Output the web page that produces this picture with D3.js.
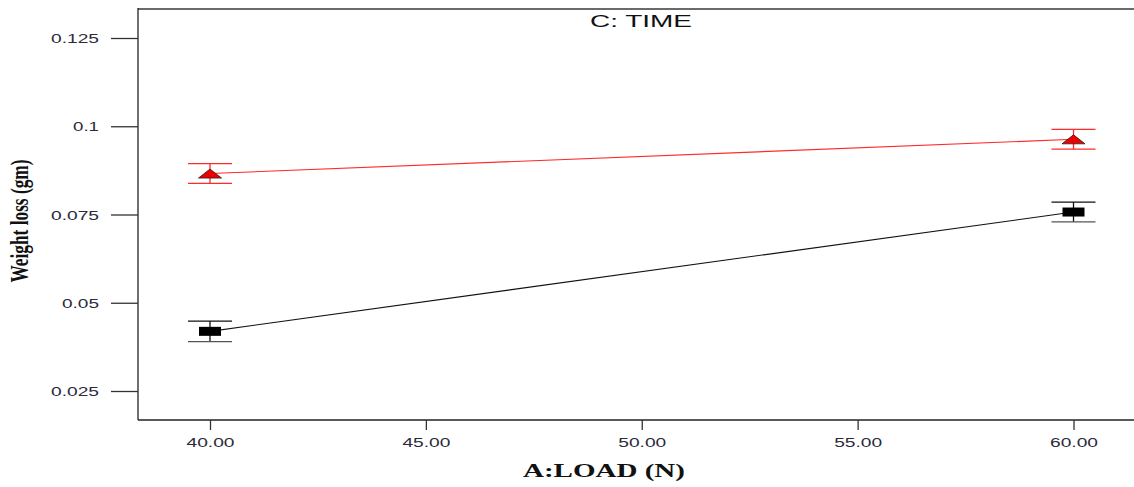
<!DOCTYPE html>
<html>
<head>
<meta charset="utf-8">
<script src="https://cdn.jsdelivr.net/npm/d3@7"></script>
<style>
  html, body { margin: 0; padding: 0; background: #fff; }
  svg { display: block; }
</style>
</head>
<body>
<svg id="chart" width="1134" height="487"></svg>
<script>
// ---- data ----
const loads = [40, 60];
const timeHigh = [0.0866, 0.0963];     // red triangles
const timeHighErr = [0.0028, 0.0028];
const timeLow = [0.0419, 0.0757];      // black squares
const timeLowErr = [0.0029, 0.0028];
const xTicks = [40, 45, 50, 55, 60];
const xTickLabels = ["40.00", "45.00", "50.00", "55.00", "60.00"];
const yTicks = [0.025, 0.05, 0.075, 0.1, 0.125];
const yTickLabels = ["0.025", "0.05", "0.075", "0.1", "0.125"];
const title = "C: TIME";
const xTitle = "A:LOAD (N)";
const yTitle = "Weight loss (gm)";

const svg = d3.select("#chart");
const W = 1134, H = 487;
const L = 138, T = 9, B = 420, R = 1134;

const x = d3.scaleLinear().domain([40, 60]).range([210, 1073.5]);
const y = d3.scaleLinear().domain([0.025, 0.125]).range([391, 38]);

// frame
svg.append("line").attr("x1", L).attr("x2", R).attr("y1", T).attr("y2", T)
  .attr("stroke", "#6a6a6a").attr("stroke-width", 2);
svg.append("line").attr("x1", L).attr("x2", L).attr("y1", T - 1).attr("y2", B)
  .attr("stroke", "#222").attr("stroke-width", 1.3);
svg.append("line").attr("x1", L).attr("x2", R).attr("y1", B).attr("y2", B)
  .attr("stroke", "#222").attr("stroke-width", 1.3);

// y axis
const yAxis = d3.axisLeft(y).tickValues(yTicks).tickSize(27).tickPadding(12)
  .tickFormat((d, i) => yTickLabels[i]);
const gy = svg.append("g").attr("transform", `translate(${L},0)`).call(yAxis);
gy.select(".domain").remove();
gy.selectAll(".tick line").attr("stroke", "#333").attr("stroke-width", 1.3);
gy.selectAll(".tick text")
  .attr("font-family", "Arial, 'Liberation Sans', sans-serif")
  .attr("font-size", 12.5).attr("fill", "#2b2b3b")
  .attr("dy", "0.36em")
  .attr("textLength", (d, i) => yTickLabels[i].length === 3 ? 26 : (yTickLabels[i].length === 4 ? 37 : 48))
  .attr("lengthAdjust", "spacingAndGlyphs");

// x axis
const xAxis = d3.axisBottom(x).tickValues(xTicks).tickSize(10).tickPadding(8)
  .tickFormat((d, i) => xTickLabels[i]);
const gx = svg.append("g").attr("transform", `translate(0,${B})`).call(xAxis);
gx.select(".domain").remove();
gx.selectAll(".tick line").attr("stroke", "#333").attr("stroke-width", 1.3);
gx.selectAll(".tick text")
  .attr("font-family", "Arial, 'Liberation Sans', sans-serif")
  .attr("font-size", 12.5).attr("fill", "#2b2b3b")
  .attr("textLength", 48).attr("lengthAdjust", "spacingAndGlyphs");

// titles
svg.append("text").attr("x", 641).attr("y", 27).attr("text-anchor", "middle")
  .attr("font-family", "Arial, 'Liberation Sans', sans-serif")
  .attr("font-size", 16.5).attr("fill", "#111")
  .attr("textLength", 102).attr("lengthAdjust", "spacingAndGlyphs")
  .text(title);

svg.append("text").attr("x", 604).attr("y", 477).attr("text-anchor", "middle")
  .attr("font-family", "'Liberation Serif', 'Times New Roman', serif")
  .attr("font-weight", "bold").attr("font-size", 18).attr("fill", "#111")
  .attr("textLength", 162).attr("lengthAdjust", "spacingAndGlyphs")
  .text(xTitle);

svg.append("text")
  .attr("transform", "translate(28,221) scale(1.5,1) rotate(-90)")
  .attr("text-anchor", "middle")
  .attr("font-family", "'Liberation Serif', 'Times New Roman', serif")
  .attr("font-weight", "bold").attr("font-size", 16.5).attr("fill", "#111")
  .attr("textLength", 123).attr("lengthAdjust", "spacingAndGlyphs")
  .text(yTitle);

// series
const line = d3.line().x(d => x(d[0])).y(d => y(d[1]));
const capHalf = 22;

function drawSeries(vals, errs, color, capBottom, marker) {
  const pts = loads.map((l, i) => [l, vals[i], errs[i]]);
  svg.append("path").datum(pts).attr("d", line)
    .attr("fill", "none").attr("stroke", color).attr("stroke-width", 1.1);
  const g = svg.append("g");
  pts.forEach(p => {
    const cx = x(p[0]);
    g.append("line").attr("x1", cx).attr("x2", cx)
      .attr("y1", y(p[1] + p[2])).attr("y2", y(p[1] - p[2]))
      .attr("stroke", color).attr("stroke-width", 1.3);
    g.append("line").attr("x1", cx - capHalf).attr("x2", cx + capHalf)
      .attr("y1", y(p[1] + p[2])).attr("y2", y(p[1] + p[2]))
      .attr("stroke", color).attr("stroke-width", 1.3);
    g.append("line").attr("x1", cx - capHalf).attr("x2", cx + capHalf)
      .attr("y1", y(p[1] - p[2])).attr("y2", y(p[1] - p[2]))
      .attr("stroke", capBottom).attr("stroke-width", 1.3);
    const cy = y(p[1]);
    if (marker === "square") {
      g.append("rect").attr("x", cx - 11).attr("y", cy - 4.5)
        .attr("width", 22).attr("height", 9).attr("fill", "#000");
    } else {
      g.append("path")
        .attr("d", `M${cx - 11.5},${cy + 4.5} L${cx},${cy - 4.5} L${cx + 11.5},${cy + 4.5} Z`)
        .attr("fill", "#ee0000").attr("stroke", "#222").attr("stroke-width", 0.8);
    }
  });
}

drawSeries(timeHigh, timeHighErr, "#ff2a2a", "#ff2a2a", "triangle");
drawSeries(timeLow, timeLowErr, "#111", "#555", "square");
</script>
</body>
</html>
